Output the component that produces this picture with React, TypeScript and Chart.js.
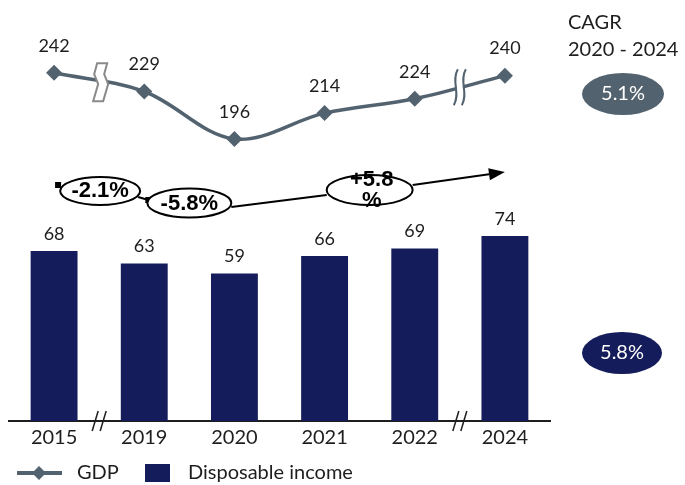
import React, { useEffect, useRef } from 'react';
import { Chart, registerables } from 'chart.js';

Chart.register(...registerables);

const years = ['2015', '2019', '2020', '2021', '2022', '2024'];
const gdp = [242, 229, 196, 214, 224, 240];
const income = [68, 63, 59, 66, 69, 74];
const growthLabels = ['-2.1%', '-5.8%', '+5.8', '%'];
const cagrTitle = ['CAGR', '2020 - 2024'];
const cagrValues = ['5.1%', '5.8%'];
const seriesNames = ['GDP', 'Disposable income'];
const breaks = [0, 4]; // break between category i and i+1

const SLATE = '#53626f';
const NAVY = '#141c5b';
const TEXT = '#1e1e1e';
const FONT = 'Lato, "Open Sans", sans-serif';
const BOLD = '"Liberation Sans", Arial, sans-serif';

function ellipse(ctx: CanvasRenderingContext2D, cx: number, cy: number, rx: number, ry: number, fill: string, stroke?: string) {
  ctx.beginPath();
  ctx.ellipse(cx, cy, rx, ry, 0, 0, Math.PI * 2);
  ctx.fillStyle = fill;
  ctx.fill();
  if (stroke) {
    ctx.strokeStyle = stroke;
    ctx.lineWidth = 2;
    ctx.stroke();
  }
}

function seg(ctx: CanvasRenderingContext2D, x1: number, y1: number, x2: number, y2: number) {
  ctx.beginPath();
  ctx.moveTo(x1, y1);
  ctx.lineTo(x2, y2);
  ctx.stroke();
}

const annotations = {
  id: 'annotations',
  afterDatasetsDraw(chart: any) {
    const ctx: CanvasRenderingContext2D = chart.ctx;
    const xs = chart.scales.x;
    const area = chart.chartArea;
    const lineMeta = chart.getDatasetMeta(0);
    const barMeta = chart.getDatasetMeta(1);
    const px = (i: number) => xs.getPixelForValue(i);
    ctx.save();

    // value labels
    ctx.fillStyle = TEXT;
    ctx.font = `18px ${FONT}`;
    ctx.textAlign = 'center';
    ctx.textBaseline = 'middle';
    lineMeta.data.forEach((p: any, i: number) => ctx.fillText(String(gdp[i]), p.x, p.y - 27));
    barMeta.data.forEach((b: any, i: number) => ctx.fillText(String(income[i]), b.x, b.y - 17));

    // axis breaks
    ctx.strokeStyle = '#1e1e1e';
    ctx.lineWidth = 1.5;
    breaks.forEach((i) => {
      const cx = (px(i) + px(i + 1)) / 2;
      const y = area.bottom;
      seg(ctx, cx - 7, y + 10, cx - 1, y - 10);
      seg(ctx, cx + 1, y + 10, cx + 7, y - 10);
    });

    // line break 1 (ribbon)
    {
      const i = breaks[0];
      const a = lineMeta.data[i], b = lineMeta.data[i + 1];
      const cx = (a.x + b.x) / 2 + 1;
      const cy = (a.y + b.y) / 2;
      const cl = [[2, -19], [-1, -8], [3, 2], [-2, 19]];
      ctx.beginPath();
      cl.forEach(([dx, dy], k) => (k === 0 ? ctx.moveTo(cx + dx - 5, cy + dy) : ctx.lineTo(cx + dx - 5, cy + dy)));
      for (let k = cl.length - 1; k >= 0; k--) ctx.lineTo(cx + cl[k][0] + 5, cy + cl[k][1]);
      ctx.closePath();
      ctx.fillStyle = '#ffffff';
      ctx.fill();
      ctx.strokeStyle = '#8a8a8a';
      ctx.lineWidth = 2;
      ctx.stroke();
    }
    // line break 2 (double wave)
    {
      const i = breaks[1];
      const a = lineMeta.data[i], b = lineMeta.data[i + 1];
      const cx = (a.x + b.x) / 2;
      const cy = (a.y + b.y) / 2;
      ctx.fillStyle = '#ffffff';
      ctx.fillRect(cx - 3, cy - 8, 6, 16);
      ctx.strokeStyle = SLATE;
      ctx.lineWidth = 2;
      [-4, 4].forEach((o) => {
        ctx.beginPath();
        ctx.moveTo(cx + o + 2, cy - 18);
        ctx.bezierCurveTo(cx + o - 5, cy - 6, cx + o + 5, cy + 6, cx + o - 2, cy + 18);
        ctx.stroke();
      });
    }

    // growth arrow with ellipses
    const x0 = px(0);
    const c1 = (px(0) + px(1)) / 2 + 1;
    const c2 = (px(1) + px(2)) / 2;
    const c3 = (px(3) + px(4)) / 2;
    const tip = px(5);
    const y1 = 191, y2 = 203, y3 = 190;
    ctx.strokeStyle = '#000';
    ctx.fillStyle = '#000';
    ctx.lineWidth = 2;
    seg(ctx, x0 + 3, 185, c1 - 38, 188);
    seg(ctx, c1 + 38, 197, c2 - 41, 200);
    seg(ctx, c2 + 42, 207, c3 - 43, 195);
    const sx = c3 + 43, sy = 185, tipY = 172;
    const ang = Math.atan2(tipY - sy, tip - sx);
    const L = 16, W = 6;
    const bx = tip - L * Math.cos(ang), by = tipY - L * Math.sin(ang);
    seg(ctx, sx, sy, bx, by);
    ctx.beginPath();
    ctx.moveTo(tip, tipY);
    ctx.lineTo(bx + W * Math.sin(ang), by - W * Math.cos(ang));
    ctx.lineTo(bx - W * Math.sin(ang), by + W * Math.cos(ang));
    ctx.closePath();
    ctx.fill();
    ctx.fillRect(x0 + 1, 182, 6, 6);
    ctx.fillRect(c2 - 44, 197, 6, 6);

    ellipse(ctx, c1, y1, 40, 14, '#ffffff', '#000');
    ellipse(ctx, c2, y2, 42, 14.5, '#ffffff', '#000');
    ellipse(ctx, c3, y3, 43, 15, '#ffffff', '#000');
    ctx.fillStyle = '#000';
    ctx.font = `bold 22px ${BOLD}`;
    ctx.fillText(growthLabels[0], c1, y1);
    ctx.fillText(growthLabels[1], c2, y2 + 1);
    ctx.fillText(growthLabels[2], c3 + 2, y3 - 10);
    ctx.fillText(growthLabels[3], c3 + 2, y3 + 11);

    // CAGR
    ctx.fillStyle = TEXT;
    ctx.font = `20px ${FONT}`;
    ctx.textAlign = 'left';
    ctx.fillText(cagrTitle[0], 568, 23);
    ctx.fillText(cagrTitle[1], 568, 50);
    ctx.textAlign = 'center';
    ellipse(ctx, 623, 94, 41, 21, SLATE);
    ellipse(ctx, 622, 353, 40, 21, NAVY);
    ctx.fillStyle = '#ffffff';
    ctx.fillText(cagrValues[0], 623, 94);
    ctx.fillText(cagrValues[1], 622, 353);

    // legend
    const ly = 473;
    ctx.strokeStyle = SLATE;
    ctx.lineWidth = 4;
    seg(ctx, 17, ly, 62, ly);
    ctx.fillStyle = SLATE;
    ctx.beginPath();
    ctx.moveTo(39 - 7, ly);
    ctx.lineTo(39, ly - 7);
    ctx.lineTo(39 + 7, ly);
    ctx.lineTo(39, ly + 7);
    ctx.closePath();
    ctx.fill();
    ctx.fillStyle = NAVY;
    ctx.fillRect(145, 464, 25, 18);
    ctx.fillStyle = TEXT;
    ctx.textAlign = 'left';
    ctx.font = `20px ${FONT}`;
    ctx.fillText(seriesNames[0], 77, ly);
    ctx.fillText(seriesNames[1], 188, ly);

    ctx.restore();
  },
};

export default function App() {
  const ref = useRef<HTMLCanvasElement>(null);
  useEffect(() => {
    const chart = new Chart(ref.current as HTMLCanvasElement, {
      type: 'bar',
      data: {
        labels: years,
        datasets: [
          {
            type: 'line',
            label: seriesNames[0],
            data: gdp,
            yAxisID: 'y2',
            borderColor: SLATE,
            backgroundColor: SLATE,
            borderWidth: 3.5,
            tension: 0.35,
            pointStyle: 'rectRot',
            pointRadius: 8,
            pointBackgroundColor: SLATE,
            pointBorderWidth: 0,
            order: 0,
          } as any,
          {
            type: 'bar',
            label: seriesNames[1],
            data: income,
            yAxisID: 'y',
            backgroundColor: NAVY,
            barPercentage: 0.52,
            categoryPercentage: 1,
            order: 1,
          },
        ],
      },
      options: {
        animation: false,
        responsive: false,
        devicePixelRatio: 1,
        events: [],
        layout: { padding: { left: 9, right: 135, top: 21, bottom: 24 } },
        plugins: { legend: { display: false }, tooltip: { enabled: false } },
        scales: {
          x: {
            grid: { display: false, drawTicks: false },
            border: { display: true, color: '#1e1e1e', width: 2 },
            ticks: { color: TEXT, font: { family: FONT, size: 20 }, padding: 5, maxRotation: 0 },
            afterFit: (s: any) => {
              s.height = 40;
            },
          },
          y: { display: false, min: 0, max: 160 },
          y2: { display: false, min: 0, max: 278 },
        },
      },
      plugins: [annotations],
    });
    return () => chart.destroy();
  }, []);
  return (
    <div style={{ position: 'absolute', left: 0, top: 0, width: 685, height: 485 }}>
      <canvas ref={ref} width={685} height={485} style={{ display: 'block' }} />
    </div>
  );
}
